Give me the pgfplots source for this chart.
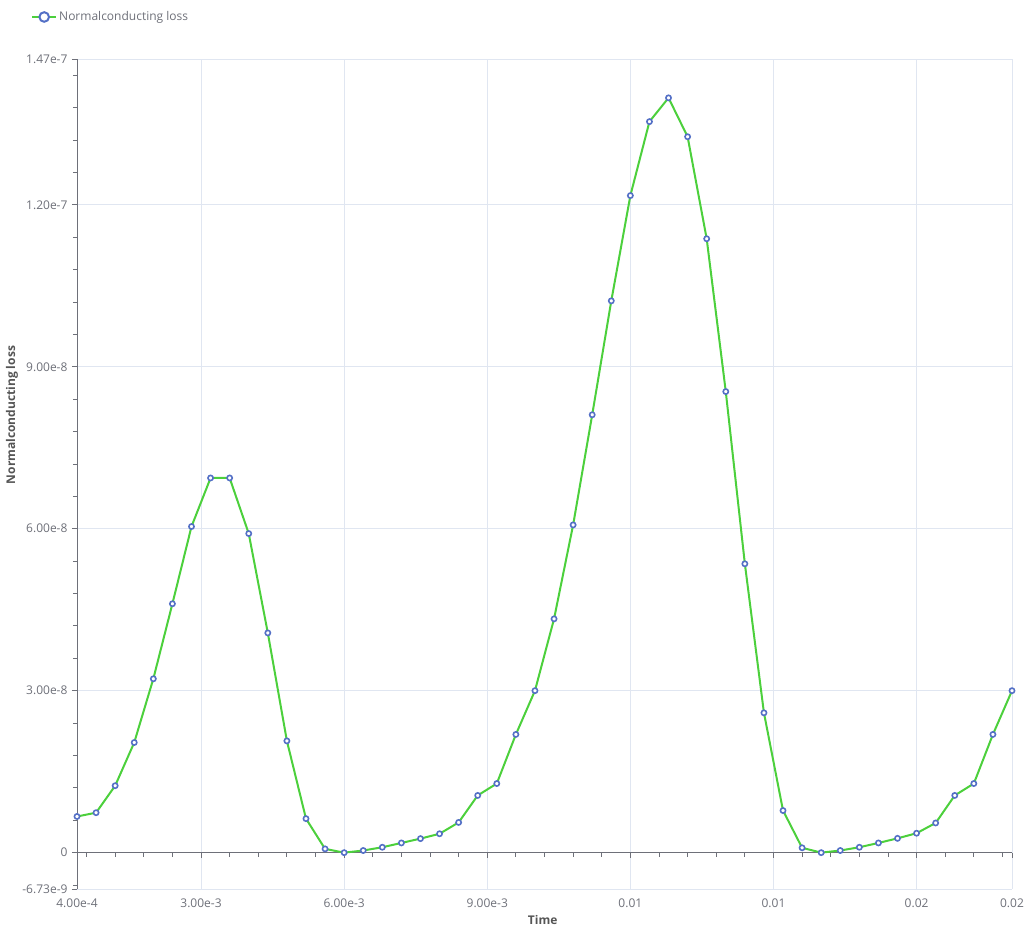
\documentclass[border=0pt]{standalone}
\usepackage{pgfplots}
\pgfplotsset{compat=1.18}
\usepackage{fontspec}
\setmainfont{Open Sans}
\definecolor{axisgray}{HTML}{6E7079}
\definecolor{gridgray}{HTML}{E0E6F1}
\definecolor{titlegray}{HTML}{555555}
\definecolor{linegreen}{HTML}{4CD03C}
\definecolor{markblue}{HTML}{5470C6}
\pgfplotstableread{
x y
0.0004 6.7e-9
0.0008 7.4e-9
0.0012 12.4e-9
0.0016 20.4e-9
0.0020 32.2e-9
0.0024 46.1e-9
0.0028 60.4e-9
0.0032 69.4e-9
0.0036 69.4e-9
0.0040 59.1e-9
0.0044 40.7e-9
0.0048 20.7e-9
0.0052 6.3e-9
0.0056 0.7e-9
0.0060 0.0
0.0064 0.4e-9
0.0068 1.0e-9
0.0072 1.8e-9
0.0076 2.6e-9
0.0080 3.5e-9
0.0084 5.6e-9
0.0088 10.6e-9
0.0092 12.8e-9
0.0096 21.9e-9
0.0100 30.0e-9
0.0104 43.3e-9
0.0108 60.7e-9
0.0112 81.1e-9
0.0116 102.2e-9
0.0120 121.7e-9
0.0124 135.4e-9
0.0128 139.8e-9
0.0132 132.6e-9
0.0136 113.7e-9
0.0140 85.4e-9
0.0144 53.5e-9
0.0148 25.9e-9
0.0152 7.8e-9
0.0156 0.9e-9
0.0160 0.0
0.0164 0.4e-9
0.0168 1.0e-9
0.0172 1.8e-9
0.0176 2.65e-9
0.0180 3.6e-9
0.0184 5.5e-9
0.0188 10.6e-9
0.0192 12.8e-9
0.0196 21.9e-9
0.0200 30.0e-9
}\lossdata
\begin{document}
\begin{tikzpicture}
\useasboundingbox (0,0) rectangle (1031pt,931pt);
\begin{axis}[
  at={(77pt,42pt)}, anchor=south west,
  scale only axis, width=935pt, height=830pt,
  xmin=0.0004, xmax=0.02, ymin=-6.73e-9, ymax=1.47e-7,
  scaled ticks=false,
  axis x line*=middle, axis y line*=left,
  hide obscured x ticks=false, hide obscured y ticks=false,
  axis line style={axisgray, line width=0.8pt, -},
  xtick={0.0004,0.003,0.006,0.009,0.012,0.015,0.018,0.02},
  xticklabels={4.00e-4,3.00e-3,6.00e-3,9.00e-3,0.01,0.01,0.02,0.02},
  minor xtick={0.0006,0.0012,0.0018,0.0024,0.0036,0.0042,0.0048,0.0054,0.0066,0.0072,0.0078,0.0084,0.0096,0.0102,0.0108,0.0114,0.0126,0.0132,0.0138,0.0144,0.0156,0.0162,0.0168,0.0174,0.0186,0.0192,0.0198},
  ytick={-6.73e-9,0,3e-8,6e-8,9e-8,1.2e-7,1.47e-7},
  yticklabels={-6.73e-9,0,3.00e-8,6.00e-8,9.00e-8,1.20e-7,1.47e-7},
  minor ytick={-6e-9,6e-9,12e-9,18e-9,24e-9,36e-9,42e-9,48e-9,54e-9,66e-9,72e-9,78e-9,84e-9,96e-9,102e-9,108e-9,114e-9,126e-9,132e-9,138e-9,144e-9},
  tick align=outside,
  major tick length=5pt, minor tick length=4pt,
  every tick/.style={axisgray, line width=0.8pt},
  grid=major, major grid style={gridgray, line width=0.8pt},
  tick label style={font=\fontsize{12}{14}\selectfont, text=axisgray},
  xticklabel style={yshift=-37.5pt, anchor=north},
  yticklabel style={anchor=east, xshift=-1pt},
  xlabel={Time}, ylabel={Normalconducting loss},
  every axis x label/.style={at={(axis description cs:0.498,-0.037)}, anchor=center, font=\fontsize{12}{14}\selectfont\bfseries, text=titlegray},
  every axis y label/.style={at={(axis description cs:-0.0695,0.571)}, rotate=90, anchor=center, font=\fontsize{12}{14}\selectfont\bfseries, text=titlegray},
  legend style={at={(axis description cs:-0.0492,1.0506)}, anchor=west, draw=none, fill=none, inner sep=0pt, font=\fontsize{12}{14}\selectfont, text=axisgray},
  legend image code/.code={
    \draw[linegreen, line width=2pt] (0pt,0pt) -- (24pt,0pt);
    \draw[markblue, fill=white, line width=2pt] (12pt,0pt) circle (4.8pt);
  },
]
\addplot[linegreen, line width=2pt, mark=*, mark size=2.6pt,
  mark options={draw=markblue, fill=white, line width=1.6pt}]
  table[x=x, y=y] {\lossdata};
\addlegendentry{Normalconducting loss}
\end{axis}
\end{tikzpicture}
\end{document}
